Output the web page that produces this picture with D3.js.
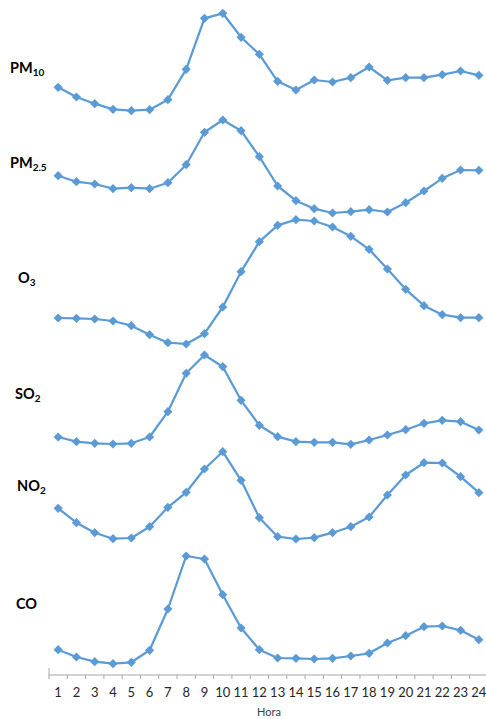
<!DOCTYPE html>
<html><head><meta charset="utf-8">
<script src="https://cdn.jsdelivr.net/npm/d3@7"></script>
<style>html,body{margin:0;padding:0;background:#fff;}svg{display:block;}</style>
</head><body>
<script>
const hours = d3.range(1, 25);
const pollutants = ["PM10", "PM2.5", "O3", "SO2", "NO2", "CO"];
// Values: relative level on a common stacked vertical scale (units above the axis)
const pm10 = [587.7,578,571.3,565.7,564.3,565.3,575.3,605.7,656.7,661.7,637.7,620.7,593.7,585,595,593,597.3,608,594.7,597.3,597.3,600.3,604,599.7];
const pm25 = [499.3,493.3,491,486.3,487.3,486.3,492.3,510.3,542.7,555,544.3,518.3,489,474.3,466.3,462,463.3,465.3,463,472.3,484,496.7,505,504.7];
const o3   = [357,356.7,356,354,349.3,340.3,332.3,331,341.3,368,403.3,433.3,449.7,455.3,454,448,438.7,425.7,406,385.7,369.3,360.3,357.3,357.3];
const so2  = [238,233.3,231.7,231,231.7,238,263.3,301.7,320,308.3,274.7,249.7,238.3,233.3,232.7,232.7,230.7,235,240,245.3,251.7,254.7,253.3,245];
const no2  = [166.7,152.3,142.3,136.3,137,148.3,167.7,182.7,206,223.3,194.7,157.3,138.3,136,137.3,142.3,148.3,158,180,200,212.3,212,198.3,182.3];
const co   = [25.3,18,13.3,11.3,12.7,24.7,66,119,116,80.3,47,25.3,17,16.7,16,16.7,19,21.7,32,39.3,48.3,49,44.7,35.3];
const seriesValues = [pm10, pm25, o3, so2, no2, co];
const xTitle = "Hora";

const W = 486, H = 719;
const svg = d3.select("body").append("svg").attr("width", W).attr("height", H);

const x = d3.scaleBand().domain(hours).range([49, 488]).padding(0);
const y = d3.scaleLinear().domain([0, 665]).range([675, 10]);
const cx = h => x(h) + x.bandwidth() / 2;

// axis
const axisG = svg.append("g").attr("transform", "translate(0,675)");
axisG.append("line").attr("x1", 49).attr("x2", 488).attr("y1", 0).attr("y2", 0)
  .attr("stroke", "#a6a6a6").attr("stroke-width", 1);
axisG.append("line").attr("x1", 49).attr("x2", 49).attr("y1", -7).attr("y2", 4)
  .attr("stroke", "#a6a6a6").attr("stroke-width", 1);
hours.forEach(h => {
  axisG.append("line").attr("x1", x(h) + x.bandwidth()).attr("x2", x(h) + x.bandwidth())
    .attr("y1", 0).attr("y2", 4).attr("stroke", "#a6a6a6").attr("stroke-width", 1);
});
axisG.selectAll("text.tick").data(hours).enter().append("text")
  .attr("x", d => cx(d)).attr("y", 22).attr("text-anchor", "middle")
  .attr("font-family", "Lato, 'Open Sans', sans-serif").attr("font-size", 13)
  .attr("fill", "#262626").text(d => d);
svg.append("text").attr("x", 269).attr("y", 716).attr("text-anchor", "middle")
  .attr("font-family", "Lato, 'Open Sans', sans-serif").attr("font-size", 11)
  .attr("fill", "#404040").text(xTitle);

// lines
const line = d3.line().x((d, i) => cx(hours[i])).y(d => y(d));
const dm = "M0,-4.6L4.6,0L0,4.6L-4.6,0Z";
seriesValues.forEach(vals => {
  const g = svg.append("g");
  g.append("path").attr("d", line(vals)).attr("fill", "none")
    .attr("stroke", "#5B9BD5").attr("stroke-width", 2.25).attr("stroke-linejoin", "round");
  g.selectAll("path.m").data(vals).enter().append("path")
    .attr("d", dm)
    .attr("transform", (d, i) => `translate(${cx(hours[i])},${y(d)})`)
    .attr("fill", "#5B9BD5");
});

// labels with subscripts
const labelParts = [["PM","10"],["PM","2.5"],["O","3"],["SO","2"],["NO","2"],["CO",""]];
const labelPos = [[10,73],[10,168],[18,283],[15,399],[17,491],[16,609]];
labelParts.forEach((p, i) => {
  const t = svg.append("text").attr("x", labelPos[i][0]).attr("y", labelPos[i][1])
    .attr("font-family", "Lato, 'Open Sans', sans-serif").attr("font-weight", "bold")
    .attr("font-size", 14.5).attr("fill", "#000");
  t.append("tspan").text(p[0]);
  if (p[1]) t.append("tspan").attr("font-size", 10).attr("dy", 3).text(p[1]);
});
</script>
</body></html>
